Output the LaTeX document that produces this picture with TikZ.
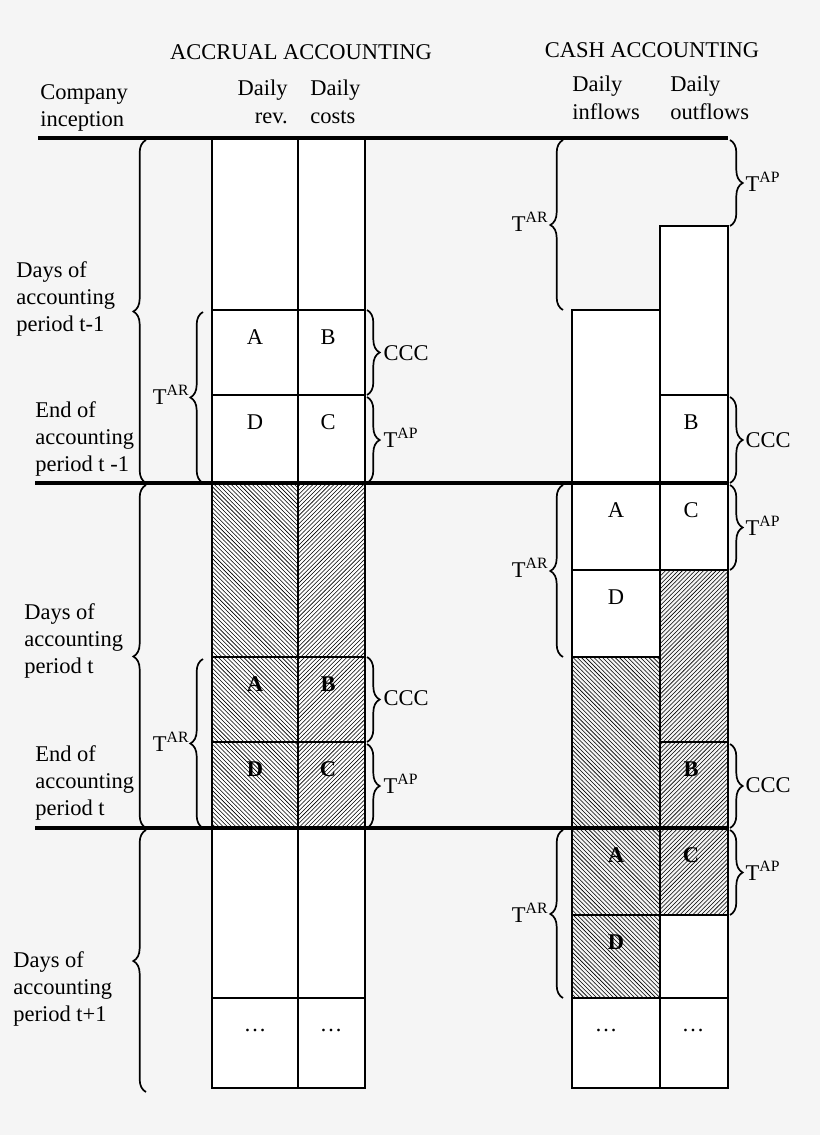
\documentclass[tikz,border=0pt]{standalone}
\usepackage{fontspec}
\setmainfont{Liberation Serif}
\usetikzlibrary{patterns}
\usetikzlibrary{decorations.pathreplacing}
\definecolor{bg}{HTML}{F5F5F5}
\tikzset{
  cell/.style={draw, line width=1.4pt, fill=white},
  hatchL/.style={draw, line width=1.4pt, pattern=north west lines},
  hatchR/.style={draw, line width=1.4pt, pattern=north east lines},
  brc/.style={decorate, decoration={brace, amplitude=9pt}, line width=1.2pt},
  heavy/.style={line width=2.4pt},
  txt/.style={font=\fontsize{16}{19.5}\selectfont, align=left, inner sep=0pt},
  lbl/.style={font=\fontsize{16}{19.5}\selectfont, inner sep=1pt}
}
\begin{document}
\begin{tikzpicture}[x=0.025cm, y=-0.025cm]
\useasboundingbox[fill=bg] (0,0) rectangle (820,1135);
% accrual columns
\draw[cell] (212,138) rectangle (298,1088);
\draw[cell] (298,138) rectangle (365,1088);
\draw[line width=1.4pt] (212,310) -- (365,310) (212,395) -- (365,395);
\draw[hatchL] (212,483) rectangle (298,828);
\draw[hatchR] (298,483) rectangle (365,828);
\draw[line width=1.4pt] (212,657) -- (365,657) (212,742) -- (365,742) (212,998) -- (365,998);
% cash columns
\draw[cell] (572,310) rectangle (660,483);
\draw[cell] (660,226) rectangle (728,483);
\draw[line width=1.4pt] (660,395) -- (728,395);
\draw[cell] (572,483) rectangle (660,570);
\draw[cell] (572,570) rectangle (660,657);
\draw[hatchL] (572,657) rectangle (660,828);
\draw[cell] (660,483) rectangle (728,570);
\draw[hatchR] (660,570) rectangle (728,742);
\draw[hatchR] (660,742) rectangle (728,828);
\draw[hatchL] (572,828) rectangle (660,915);
\draw[hatchL] (572,915) rectangle (660,998);
\draw[hatchR] (660,828) rectangle (728,915);
\draw[cell] (660,915) rectangle (728,998);
\draw[cell] (572,998) rectangle (660,1088);
\draw[cell] (660,998) rectangle (728,1088);
% period lines
\draw[heavy] (38,138) -- (728,138);
\draw[heavy] (35,483) -- (728,483);
\draw[heavy] (35,828) -- (728,828);
% cell letters
\node[lbl] (a1) at (255,337) {A}; \node[lbl] (b1) at (328,337) {B};
\node[lbl] (d1) at (255,422) {D}; \node[lbl] (c1) at (328,422) {C};
\node[lbl] (a2) at (255,684) {\textbf{A}}; \node[lbl] (b2) at (328,684) {\textbf{B}};
\node[lbl] (d2) at (255,769) {\textbf{D}}; \node[lbl] (c2) at (328,769) {\textbf{C}};
\node[lbl] (e1) at (255,1030) {\dots}; \node[lbl] (e2) at (331,1030) {\dots};
\node[lbl] (b3) at (691,422) {B};
\node[lbl] (a3) at (616,510) {A}; \node[lbl] (c3) at (691,510) {C};
\node[lbl] (d3) at (616,597) {D};
\node[lbl] (b4) at (691,769) {\textbf{B}};
\node[lbl] (a4) at (616,855) {\textbf{A}}; \node[lbl] (c4) at (691,855) {\textbf{C}};
\node[lbl] (d4) at (616,942) {\textbf{D}};
\node[lbl] (e3) at (606,1030) {\dots}; \node[lbl] (e4) at (693,1030) {\dots};
% headings
\node[lbl] (accr) at (301,52) {ACCRUAL ACCOUNTING};
\node[lbl] (cash) at (652,50) {CASH ACCOUNTING};
\node[txt, anchor=north west] (incep) at (40,84) {Company\\inception};
\node[txt, anchor=north east, align=right] (rev) at (288,80) {Daily\\rev.};
\node[txt, anchor=north west] (cost) at (310,80) {Daily\\costs};
\node[txt, anchor=north west] (infl) at (572,76) {Daily\\inflows};
\node[txt, anchor=north west] (outf) at (670,76) {Daily\\outflows};
% period texts
\node[txt, anchor=north west] (p0) at (16,261) {Days of\\accounting\\period t-1};
\node[txt, anchor=north west] (q0) at (35,401) {End of\\accounting\\period t -1};
\node[txt, anchor=north west] (p1) at (24,603) {Days of\\accounting\\period t};
\node[txt, anchor=north west] (q1) at (35,745) {End of\\accounting\\period t};
\node[txt, anchor=north west] (p2) at (13,951) {Days of\\accounting\\period t+1};
% braces
\draw[brc] (146,483) -- (146,140);
\draw[brc] (146,828) -- (146,485);
\draw[brc] (146,1092) -- (146,830);
\draw[brc] (203,483) -- (203,312);
\draw[brc] (203,828) -- (203,659);
\draw[brc] (367,310) -- (367,395);
\draw[brc] (367,397) -- (367,483);
\draw[brc] (367,657) -- (367,742);
\draw[brc] (367,744) -- (367,828);
\draw[brc] (563,310) -- (563,140);
\draw[brc] (563,657) -- (563,485);
\draw[brc] (563,998) -- (563,830);
\draw[brc] (730,140) -- (730,226);
\draw[brc] (730,397) -- (730,483);
\draw[brc] (730,485) -- (730,570);
\draw[brc] (730,744) -- (730,828);
\draw[brc] (730,830) -- (730,915);
% brace labels
\node[lbl, anchor=east] (tar1) at (191,395) {T\textsuperscript{AR}};
\node[lbl, anchor=east] (tar2) at (191,742) {T\textsuperscript{AR}};
\node[lbl, anchor=west] (ccc1) at (382,353) {CCC};
\node[lbl, anchor=west] (tap1) at (382,438) {T\textsuperscript{AP}};
\node[lbl, anchor=west] (ccc2) at (382,698) {CCC};
\node[lbl, anchor=west] (tap2) at (382,784) {T\textsuperscript{AP}};
\node[lbl, anchor=east] (tar3) at (550,222) {T\textsuperscript{AR}};
\node[lbl, anchor=east] (tar4) at (550,568) {T\textsuperscript{AR}};
\node[lbl, anchor=east] (tar5) at (550,913) {T\textsuperscript{AR}};
\node[lbl, anchor=west] (tap3) at (744,182) {T\textsuperscript{AP}};
\node[lbl, anchor=west] (ccc3) at (744,440) {CCC};
\node[lbl, anchor=west] (tap4) at (744,526) {T\textsuperscript{AP}};
\node[lbl, anchor=west] (ccc4) at (744,785) {CCC};
\node[lbl, anchor=west] (tap5) at (744,871) {T\textsuperscript{AP}};
\end{tikzpicture}
\end{document}
